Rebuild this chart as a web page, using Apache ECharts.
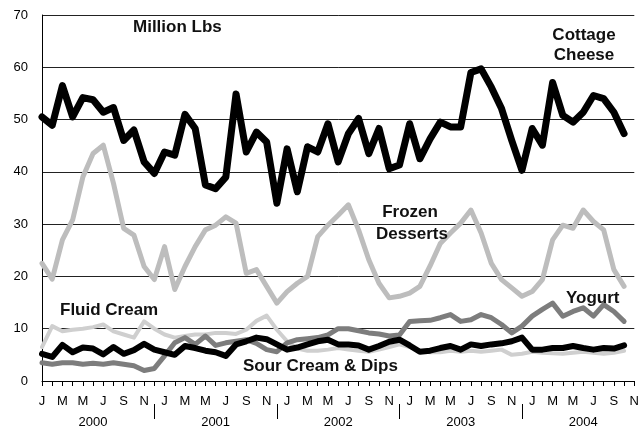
<!DOCTYPE html>
<html><head><meta charset="utf-8">
<script src="https://cdn.jsdelivr.net/npm/echarts@6/dist/echarts.min.js"></script>
<style>html,body{margin:0;padding:0;background:#fff}#c{width:642px;height:429px}</style>
</head><body><div id="c"></div>
<script>
const months = ['J','F','M','A','M','J','J','A','S','O','N','D',
  'J','F','M','A','M','J','J','A','S','O','N','D',
  'J','F','M','A','M','J','J','A','S','O','N','D',
  'J','F','M','A','M','J','J','A','S','O','N','D',
  'J','F','M','A','M','J','J','A','S','O','N'];
const yearLabels = ['2000','2001','2002','2003','2004'];
const yTicks = [0,10,20,30,40,50,60,70];

const cottageCheese = [50.5,48.9,56.5,50.5,54.2,53.8,51.4,52.3,46.0,48.0,
  41.9,39.7,43.8,43.2,51.0,48.3,37.5,36.8,39.0,54.9,
  43.8,47.6,45.7,34.0,44.4,36.2,44.8,43.8,49.2,41.9,
  47.3,50.2,43.5,48.3,40.6,41.3,49.2,42.5,46.3,49.5,
  48.6,48.6,59.0,59.7,56.2,52.1,46.0,40.3,48.3,45.1,
  57.1,50.8,49.5,51.4,54.6,54.0,51.4,47.3];
const frozenDesserts = [22.5,19.5,27.0,30.8,39.0,43.5,45.1,37.8,29.2,27.9,
  21.9,19.4,25.7,17.5,21.9,25.7,28.9,29.8,31.4,30.2,
  20.6,21.3,18.1,14.9,17.1,18.7,20.0,27.6,29.8,31.7,
  33.7,28.9,23.2,18.7,15.9,16.2,16.8,18.1,22.0,26.3,
  28.3,30.2,32.7,28.3,22.5,19.4,17.8,16.2,17.1,19.4,
  27.0,29.8,29.2,32.7,30.5,28.9,21.3,18.1];
const fluidCream = [6.5,10.5,9.5,9.8,10.0,10.3,10.8,9.5,8.9,8.3,
  11.4,10.0,8.9,8.3,8.6,8.9,8.9,9.2,9.2,9.0,
  9.8,11.5,12.5,9.8,7.6,6.2,5.8,5.8,6.0,6.3,
  6.0,5.8,5.6,6.0,6.5,7.0,6.5,5.8,5.5,5.5,
  5.8,5.6,5.8,5.6,5.8,6.0,5.0,5.2,5.6,5.4,
  5.3,5.2,5.4,5.6,5.4,5.2,5.4,5.8];
const yogurt = [3.5,3.2,3.5,3.5,3.2,3.4,3.2,3.5,3.2,2.9,
  2.0,2.4,4.8,7.3,8.3,7.0,8.6,6.8,7.3,7.6,
  7.9,7.2,6.0,5.6,7.3,7.9,8.1,8.3,8.8,10.0,
  10.0,9.6,9.2,9.0,8.6,8.8,11.4,11.5,11.6,12.1,
  12.7,11.4,11.7,12.7,12.1,10.8,9.2,10.5,12.4,13.7,
  14.9,12.4,13.3,14.0,12.4,14.6,13.3,11.4];
const sourCream = [5.2,4.6,6.9,5.5,6.4,6.2,5.1,6.5,5.2,5.9,
  7.1,6.0,5.5,5.0,6.7,6.3,5.8,5.5,4.8,7.0,
  7.6,8.3,8.0,7.0,6.0,6.4,7.0,7.6,7.9,7.0,
  7.0,6.8,6.0,6.7,7.5,7.9,6.8,5.6,5.8,6.3,
  6.7,6.0,7.0,6.7,7.0,7.2,7.6,8.3,6.0,6.0,
  6.3,6.3,6.7,6.3,6.0,6.3,6.2,6.8];

const yearOfMonth = months.map((m, i) => yearLabels[Math.floor(i / 12)]);
const FONT = "'Liberation Sans', Arial, sans-serif";

const chart = echarts.init(document.getElementById('c'), null, {renderer: 'canvas'});
function line(name, data, color, width, z) {
  return {name, type: 'line', data, symbol: 'none', smooth: false, z,
    lineStyle: {color, width, join: 'round', cap: 'round'}, animation: false};
}
function txt(text, x, y, align) {
  return {type: 'text', x, y, z: 100,
    style: {text, font: "bold 17px " + FONT, fill: '#111', align: align || 'left', verticalAlign: 'middle'}};
}
chart.setOption({
  animation: false,
  backgroundColor: '#fff',
  grid: {left: 42, right: 0, top: 15, bottom: 47, containLabel: false},
  xAxis: [{
    type: 'category', data: months, boundaryGap: false,
    axisLine: {lineStyle: {color: '#000', width: 1}},
    axisTick: {interval: 0, length: 5, lineStyle: {color: '#000'}},
    axisLabel: {interval: 1, margin: 14, color: '#000', fontSize: 13, fontFamily: FONT},
    splitLine: {show: false}
  }, {
    type: 'category', data: yearOfMonth, boundaryGap: false, position: 'bottom', offset: 23,
    axisLine: {show: false},
    axisTick: {show: true, interval: (i) => i % 12 === 11, length: 15, lineStyle: {color: '#000', width: 1}},
    axisLabel: {interval: (i) => i % 12 === 5, margin: 12, color: '#000', fontSize: 13, fontFamily: FONT},
    splitLine: {show: false}
  }],
  yAxis: {
    type: 'value', min: yTicks[0], max: yTicks[yTicks.length - 1], interval: 10,
    axisLine: {show: true, lineStyle: {color: '#000', width: 1}},
    axisTick: {show: false},
    axisLabel: {margin: 14, color: '#000', fontSize: 13, fontFamily: FONT},
    splitLine: {lineStyle: {color: '#222', width: 1}}
  },
  series: [
    line('Fluid Cream', fluidCream, '#cfcfcf', 4, 2),
    line('Frozen Desserts', frozenDesserts, '#bdbdbd', 5, 3),
    line('Yogurt', yogurt, '#7d7d7d', 5, 4),
    line('Sour Cream & Dips', sourCream, '#000', 6, 5),
    line('Cottage Cheese', cottageCheese, '#000', 7, 6)
  ],
  graphic: [
    txt('Million Lbs', 133, 27),
    txt('Cottage', 584, 35, 'center'),
    txt('Cheese', 584, 55, 'center'),
    txt('Frozen', 410, 212, 'center'),
    txt('Desserts', 412, 234, 'center'),
    txt('Fluid Cream', 60, 310),
    txt('Yogurt', 566, 298),
    txt('Sour Cream & Dips', 243, 366)
  ]
});
</script></body></html>
